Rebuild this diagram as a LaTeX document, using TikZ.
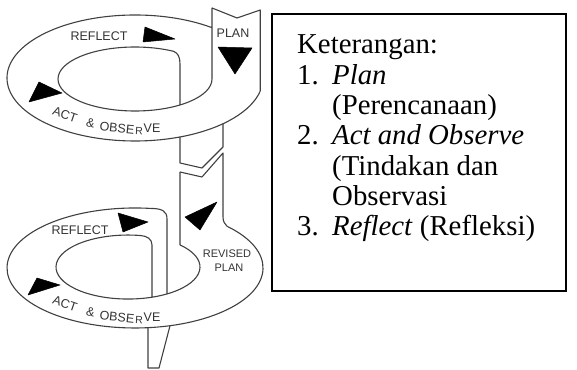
\documentclass[tikz,border=0pt]{standalone}
\usepackage{fontspec}
\setmainfont{Liberation Serif}
\newfontfamily\labfont{Liberation Sans}
\begin{document}
\begin{tikzpicture}[x=1pt,y=1pt,
  band/.style={draw=black!75,line width=1.1pt,line join=round},
  tri/.style={fill=black,draw=black,line width=0.5pt,line join=round},
  lab/.style={font=\labfont\fontsize{12.5}{13}\selectfont,text=black!80,inner sep=0pt},
  lowr/.style={font=\labfont\fontsize{10.5}{11}\selectfont,text=black!80,inner sep=0pt},
  rev/.style={font=\labfont\fontsize{11}{12}\selectfont,text=black!80,inner sep=0pt},
  legend/.style={anchor=base west,inner sep=0pt,font=\fontsize{28.8}{30.3}\selectfont}]
\useasboundingbox (0,0) rectangle (577,369);

% ---------- upper loop ----------
\coordinate (OU) at (135,291);
\coordinate (HU) at (135,290);
% outer rim, PLAN strip, hole and the band turning down behind
\draw[band] (OU) ++(53:128 and 63) coordinate (u0)
  arc[start angle=53,end angle=348,x radius=128,y radius=63]
  -- (260.2,359) -- (237,351) -- (212,361) -- (212,290)
  arc[start angle=0,end angle=-300,x radius=77,y radius=32]
  .. controls (178,316) and (180,312) .. (180,305) -- (180,264);
% strip leaving the upper loop
\draw[band] (180,232) -- (180,206) -- (202,201) -- (223,222) -- (223,245.3);

% ---------- lower loop ----------
\coordinate (OL) at (135,101);
\coordinate (HL) at (128,102);
% revised-plan strip, left edge into the hole
\draw[band] (180,197) -- (180,124.1)
  arc[start angle=43.76,end angle=-280,x radius=72,y radius=32]
  .. controls (147,133) and (152,130) .. (152,124) -- (152,71.8);
% revised-plan strip, right edge into the outer rim
\draw[band] (180,197) -- (202,192) -- (223,216) -- (223,152)
  .. controls (223,147) and (225,145) .. (227.1,142.7)
  arc[start angle=44,end angle=-277,x radius=128,y radius=60]
  .. controls (162,160.5) and (167,158) .. (167,150) -- (167,75.1);
% strip leaving the lower loop
\draw[band] (148,41.3) -- (148,1) -- (159,1) -- (170,43.3);

% ---------- arrow heads ----------
\fill[tri] (145,342) -- (143,327) -- (175,330) -- cycle;
\fill[tri] (218,322) -- (252,321) -- (235,295) -- cycle;
\fill[tri] (29,267) -- (39,287) -- (62,276) -- cycle;
\fill[tri] (118,156) -- (123,137) -- (148,147) -- cycle;
\fill[tri] (185,152) -- (217,167) -- (200,139) -- cycle;
\fill[tri] (28,74) -- (37,91) -- (60,84) -- cycle;

% ---------- labels, upper loop ----------
\node[lab] (uref) at (99,333) {REFLECT};
\node[lab] (uplan) at (233,336) {PLAN};
\node[lab,rotate=-19] (uact) at (65,254.5) {ACT};
\node[lab,rotate=-11] (uamp) at (90.5,245.5) {\&};
\node[lab,rotate=-6] (uobs) at (117,241) {OBSE};
\node[lowr,rotate=-3] (ur) at (139,238) {R};
\node[lab] (uve) at (152,241) {VE};

% ---------- labels, lower loop ----------
\node[lab] (lref) at (80,139) {REFLECT};
\node[rev] (lrev) at (227,115) {REVISED};
\node[rev] (lplan) at (229,101) {PLAN};
\node[lab,rotate=-19] (lact) at (65,65.5) {ACT};
\node[lab,rotate=-11] (lamp) at (90.5,56.5) {\&};
\node[lab,rotate=-6] (lobs) at (117,52) {OBSE};
\node[lowr,rotate=-3] (lr) at (139,49) {R};
\node[lab] (lve) at (152,52) {VE};

% ---------- legend ----------
\draw[line width=1.4pt] (272,355) rectangle (566,78);
\node[legend] (k0) at (297,315) {Keterangan:};
\node[legend] (n1) at (297,284.7) {1.};
\node[legend] (t1) at (332,284.7) {\textit{Plan}};
\node[legend] (t1b) at (332,254.4) {(Perencanaan)};
\node[legend] (n2) at (297,224.1) {2.};
\node[legend] (t2) at (332,224.1) {\textit{Act and Observe}};
\node[legend] (t2b) at (332,193.8) {(Tindakan dan};
\node[legend] (t2c) at (332,163.5) {Observasi};
\node[legend] (n3) at (297,133.2) {3.};
\node[legend] (t3) at (332,133.2) {\textit{Reflect} (Refleksi)};
\end{tikzpicture}
\end{document}
